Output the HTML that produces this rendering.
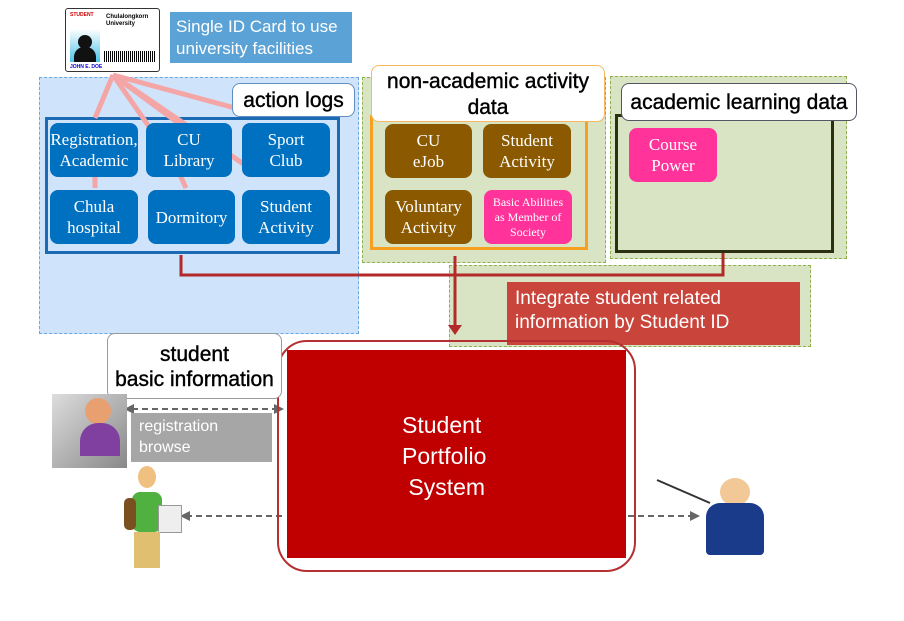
<!DOCTYPE html>
<html><head><meta charset="utf-8"><style>
body{margin:0;width:904px;height:621px;background:#fff;position:relative;overflow:hidden;font-family:"Liberation Sans",sans-serif}
.a{position:absolute;box-sizing:border-box}
.bl{background:#0070c0;color:#fff;border-radius:8px;font-family:"Liberation Serif",serif;font-size:17px;line-height:21px;text-align:center;display:flex;align-items:center;justify-content:center}
.br{background:#8b5a00;color:#fff;border-radius:8px;font-family:"Liberation Serif",serif;font-size:17px;line-height:21px;text-align:center;display:flex;align-items:center;justify-content:center}
.pk{background:#ff3399;color:#fff;border-radius:8px;font-family:"Liberation Serif",serif;text-align:center;display:flex;align-items:center;justify-content:center}
.lab{background:#fff;border-radius:8px;font-size:21px;color:#000;text-align:center;line-height:24px}
.cn{font-family:"Liberation Sans",sans-serif;font-size:21px;white-space:nowrap;-webkit-text-stroke:0.4px #000}
</style></head><body>
<div class="a" style="left:39px;top:77px;width:320px;height:257px;background:#cfe3fb;border:1px dashed #6aa8e0"></div>
<div class="a" style="left:362px;top:77px;width:244px;height:186px;background:#d8e4c4;border:1px dashed #8fb050"></div>
<div class="a" style="left:449px;top:265px;width:362px;height:82px;background:#d8e4c4;border:1px dashed #8fb050"></div>
<div class="a" style="left:610px;top:76px;width:237px;height:183px;background:#d8e4c4;border:1px dashed #8fb050"></div>
<div class="a" style="left:65px;top:8px;width:95px;height:64px;background:#fff;border:1px solid #333;border-radius:3px">
<div class="a" style="left:4px;top:3px;font-size:5px;color:#c00;font-weight:bold">STUDENT</div>
<div class="a" style="left:40px;top:5px;font-size:6px;font-weight:bold;line-height:7px">Chulalongkorn<br>University</div>
<div class="a" style="left:4px;top:20px;width:30px;height:33px;background:linear-gradient(#fff,#4cc3e8)"></div>
<div class="a" style="left:12px;top:26px;width:14px;height:14px;border-radius:50%;background:#111"></div>
<div class="a" style="left:8px;top:38px;width:22px;height:15px;border-radius:10px 10px 0 0;background:#111"></div>
<div class="a" style="left:38px;top:42px;width:52px;height:11px;background:repeating-linear-gradient(90deg,#000 0 1px,#fff 1px 2px)"></div>
<div class="a" style="left:4px;top:55px;font-size:5px;color:#00c;font-weight:bold">JOHN E. DOE</div>
</div>
<div class="a" style="left:170px;top:12px;width:182px;height:51px;background:#5ba3d6;color:#fff;font-size:17px;line-height:22px;padding:4px 6px">Single ID Card to use university facilities</div>
<div class="a" style="left:45px;top:117px;width:295px;height:137px;border:3px solid #1a6bb3"></div>
<svg class="a" style="left:0;top:0" width="904" height="621">
<g stroke="#f4a6a6" stroke-width="5" fill="none">
<line x1="113" y1="75" x2="95" y2="118"/><line x1="113" y1="75" x2="150" y2="128"/>
<line x1="113" y1="75" x2="185" y2="128"/><line x1="113" y1="75" x2="235" y2="108"/>
<line x1="113" y1="75" x2="245" y2="165"/><line x1="95" y1="175" x2="95" y2="188"/><line x1="180" y1="175" x2="186" y2="188"/>
</g></svg>
<div class="a bl" style="left:50px;top:123px;width:88px;height:54px">Registration,<br>Academic</div>
<div class="a bl" style="left:146px;top:123px;width:86px;height:54px">CU<br>Library</div>
<div class="a bl" style="left:242px;top:123px;width:88px;height:54px">Sport<br>Club</div>
<div class="a bl" style="left:50px;top:190px;width:88px;height:54px">Chula<br>hospital</div>
<div class="a bl" style="left:148px;top:190px;width:87px;height:54px">Dormitory</div>
<div class="a bl" style="left:242px;top:190px;width:88px;height:54px">Student<br>Activity</div>
<svg class="a" style="left:0;top:0" width="904" height="621">
<g fill="none" stroke="#b22a2a" stroke-width="3">
<polyline points="181,255 181,275 723,275 723,252"/>
<line x1="455" y1="256" x2="455" y2="328"/>
</g>
<polygon points="448,325 462,325 455,335" fill="#b22a2a"/>
<g stroke="#666" stroke-width="2" stroke-dasharray="6,4" fill="none">
<line x1="132" y1="409" x2="276" y2="409"/><line x1="186" y1="516" x2="283" y2="516"/><line x1="628" y1="516" x2="693" y2="516"/>
</g>
<polygon points="124,409 134,404 134,414" fill="#666"/><polygon points="284,409 274,404 274,414" fill="#666"/>
<polygon points="180,516 190,511 190,521" fill="#666"/><polygon points="700,516 690,511 690,521" fill="#666"/>
</svg>
<div class="a lab cn" style="left:232px;top:83px;width:123px;height:34px;border:1px solid #5f8ec0;padding-top:5px">action logs</div>
<div class="a" style="left:370px;top:115px;width:218px;height:135px;border:3px solid #f5a020"></div>
<div class="a lab cn" style="left:371px;top:65px;width:234px;height:57px;border:1px solid #f5b860;padding-top:3px;line-height:26px">non-academic activity<br>data</div>
<div class="a br" style="left:385px;top:124px;width:87px;height:54px">CU<br>eJob</div>
<div class="a br" style="left:483px;top:124px;width:88px;height:54px">Student<br>Activity</div>
<div class="a br" style="left:385px;top:190px;width:87px;height:54px">Voluntary<br>Activity</div>
<div class="a pk" style="left:484px;top:190px;width:88px;height:54px;font-size:12px;line-height:15px">Basic Abilities<br>as Member of<br>Society</div>
<div class="a" style="left:615px;top:114px;width:219px;height:139px;border:3px solid #2a3010"></div>
<div class="a lab cn" style="left:621px;top:83px;width:236px;height:38px;border:1px solid #556;padding-top:7px">academic learning data</div>
<div class="a pk" style="left:629px;top:128px;width:88px;height:54px;font-size:17px;line-height:21px">Course<br>Power</div>
<div class="a" style="left:507px;top:282px;width:293px;height:63px;background:#c9443b;color:#fff;font-size:19px;line-height:24px;padding:5px 8px">Integrate student related information by Student ID</div>
<div class="a" style="left:277px;top:340px;width:359px;height:232px;border:2px solid #b53030;border-radius:30px"></div>
<div class="a" style="left:287px;top:350px;width:339px;height:208px;background:#c00000;color:#fff;font-size:23px;line-height:31px;padding:60px 0 0 115px">Student<br>Portfolio<br>&nbsp;System</div>
<div class="a lab cn" style="left:107px;top:333px;width:175px;height:66px;border:1px solid #999;padding-top:8px;line-height:25px">student<br>basic information</div>
<div class="a" style="left:131px;top:413px;width:141px;height:49px;background:#a6a6a6;color:#fff;font-size:16px;line-height:21px;padding:3px 8px">registration<br>browse</div>
<div class="a" style="left:52px;top:394px;width:75px;height:74px;background:linear-gradient(135deg,#ddd,#888)"></div>
<div class="a" style="left:85px;top:398px;width:26px;height:26px;border-radius:50%;background:#e8a070"></div>
<div class="a" style="left:80px;top:423px;width:40px;height:33px;border-radius:18px 18px 0 0;background:#8040a0"></div>
<div class="a" style="left:138px;top:466px;width:18px;height:22px;border-radius:50%;background:#f0c080"></div>
<div class="a" style="left:132px;top:492px;width:30px;height:40px;background:#50b040;border-radius:8px"></div>
<div class="a" style="left:124px;top:498px;width:12px;height:32px;background:#7a5020;border-radius:5px"></div>
<div class="a" style="left:158px;top:505px;width:24px;height:28px;background:#eee;border:1px solid #999"></div>
<div class="a" style="left:134px;top:532px;width:26px;height:36px;background:#e0c070"></div>
<div class="a" style="left:720px;top:478px;width:30px;height:28px;border-radius:50%;background:#f2c896"></div>
<div class="a" style="left:706px;top:503px;width:58px;height:52px;background:#1a3a8a;border-radius:14px 14px 4px 4px"></div>
<svg class="a" style="left:655px;top:478px" width="60" height="30"><line x1="2" y1="2" x2="55" y2="25" stroke="#333" stroke-width="2"/></svg>
</body></html>
